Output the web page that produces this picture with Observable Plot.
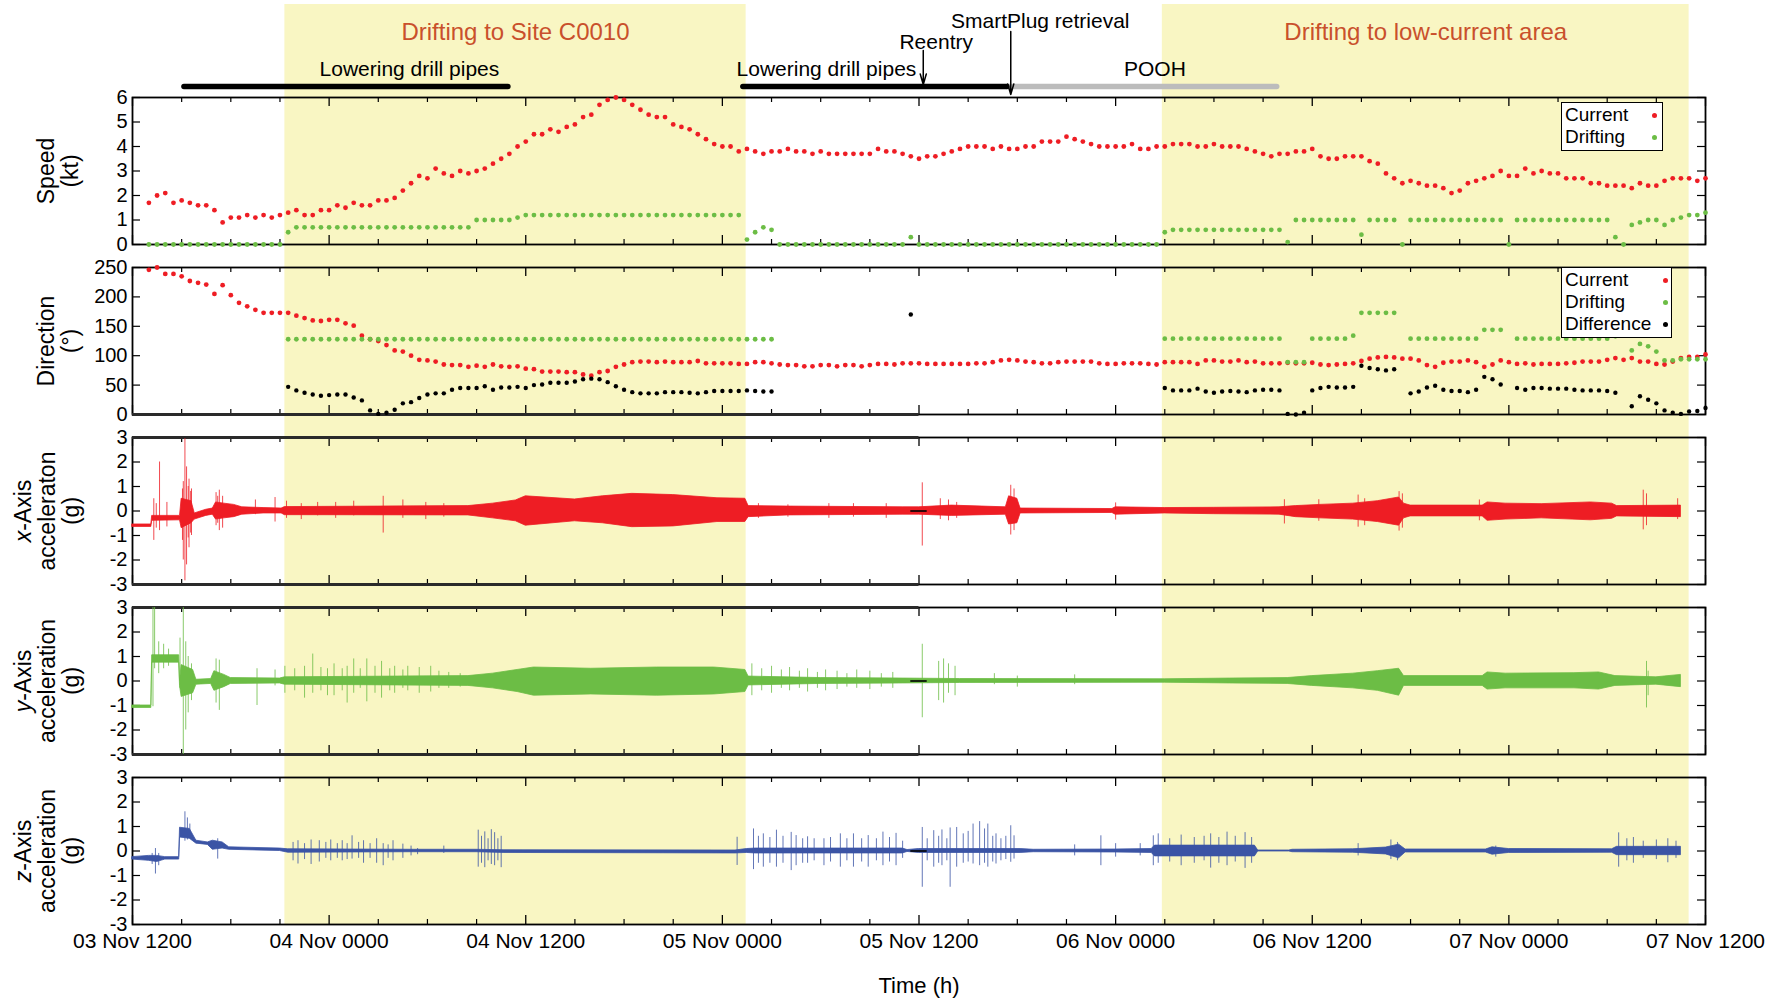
<!DOCTYPE html>
<html>
<head>
<meta charset="utf-8">
<script src="https://cdn.jsdelivr.net/npm/d3@7"></script>
<script src="https://cdn.jsdelivr.net/npm/@observablehq/plot@0.6"></script>
<style>
html, body { margin: 0; padding: 0; background: #fff; }
#fig { position: relative; width: 1788px; height: 1003px; overflow: hidden; background: #fff;
  font-family: "Liberation Sans", Arial, Helvetica, sans-serif; }
#fig .layer { position: absolute; left: 0; }
#fig .legend { position: absolute; background: #fff; border: 1.4px solid #000; box-sizing: border-box;
  font-size: 19px; color: #000; }
#fig .legend .row { position: absolute; left: 3px; height: 22px; line-height: 22px; white-space: nowrap; }
#fig .legend .dot { position: absolute; width: 5px; height: 5px; border-radius: 50%; }
</style>
</head>
<body>
<div id="fig"></div>
<script>
// ---------------- DATA ----------------
// time axis: hours after 03 Nov 12:00
const tickHours = [0, 12, 24, 36, 48, 60, 72, 84, 96];
const tickLabels = ["03 Nov 1200", "04 Nov 0000", "04 Nov 1200", "05 Nov 0000", "05 Nov 1200",
  "06 Nov 0000", "06 Nov 1200", "07 Nov 0000", "07 Nov 1200"];
const minorTickHours = [3, 6, 9, 15, 18, 21, 27, 30, 33, 39, 42, 45, 51, 54, 57, 63, 66, 69, 75, 78, 81, 87, 90, 93];

// shaded drifting periods
const shadedStart = [9.3, 62.85];
const shadedEnd = [37.45, 95.0];
const shadedTitle = ["Drifting to Site C0010", "Drifting to low-current area"];

// operations bars
const phaseStart = [3.17, 37.28, 53.39];
const phaseEnd = [22.94, 53.39, 69.86];
const phaseKind = ["drill", "drill", "pooh"];
const phaseLabel = ["Lowering drill pipes", "Lowering drill pipes", "POOH"];
const phaseLabelAt = [16.9, 42.35, 62.4];

// events
const eventName = ["Reentry", "SmartPlug retrieval"];
const eventAt = [48.26, 53.6];
const eventLabelAt = [49.05, 55.4];

// half-hourly samples, first one at 1.0 h
const sampleStart = 1.0, sampleStep = 0.5;

const speedCurrent = [
1.7,2.0,2.1,1.7,1.8,1.7,1.6,1.6,1.4,0.9,
1.1,1.1,1.2,1.1,1.2,1.1,1.2,1.3,1.4,1.2,
1.2,1.4,1.4,1.6,1.5,1.7,1.6,1.6,1.8,1.8,
1.9,2.2,2.5,2.8,2.7,3.1,2.9,2.8,3.0,2.9,
3.0,3.1,3.3,3.5,3.7,4.0,4.2,4.5,4.5,4.7,
4.6,4.8,4.9,5.2,5.3,5.7,5.9,6.0,5.9,5.7,
5.5,5.3,5.2,5.2,4.9,4.8,4.7,4.5,4.3,4.1,
4.0,4.0,3.8,3.9,3.8,3.7,3.8,3.8,3.9,3.8,
3.8,3.7,3.8,3.7,3.7,3.7,3.7,3.7,3.7,3.9,
3.8,3.8,
3.7,3.6,3.5,3.6,3.6,3.7,3.8,3.9,4.0,4.0,
4.0,3.9,4.0,3.9,3.9,4.0,4.0,4.2,4.2,4.2,
4.4,4.3,4.2,4.1,4.0,4.0,4.0,4.0,4.1,3.9,
3.9,4.0,4.0,4.1,4.1,4.1,4.0,4.0,4.1,4.0,
4.0,4.0,3.9,3.8,3.7,3.6,3.7,3.7,3.8,3.8,
3.9,3.6,3.5,3.5,3.6,3.6,3.6,3.4,3.3,2.9,
2.7,2.5,2.6,2.5,2.4,2.4,2.3,2.1,2.2,2.5,
2.6,2.7,2.8,3.0,2.8,2.8,3.1,2.9,3.0,2.9,
2.9,2.7,2.7,2.7,2.5,2.5,2.4,2.4,2.4,2.3,
2.5,2.4,2.4,2.6,2.7,2.7,2.7,2.6,2.7];

const speedDrifting = [
0,0,0,0,0,0,0,0,0,0,
0,0,0,0,0,0,0,0.5,0.7,0.7,
0.7,0.7,0.7,0.7,0.7,0.7,0.7,0.7,0.7,0.7,
0.7,0.7,0.7,0.7,0.7,0.7,0.7,0.7,0.7,0.7,
1.0,1.0,1.0,1.0,1.0,1.1,1.2,1.2,1.2,1.2,
1.2,1.2,1.2,1.2,1.2,1.2,1.2,1.2,1.2,1.2,
1.2,1.2,1.2,1.2,1.2,1.2,1.2,1.2,1.2,1.2,
1.2,1.2,1.2,0.2,0.5,0.7,0.6,0,0,0,
0,0,0,0,0,0,0,0,0,0,
0,0,0,0.3,0,0,0,0,0,0,
0,0,0,0,0,0,0,0,0,0,
0,0,0,0,0,0,0,0,0,0,
0,0,0,0,0.5,0.6,0.6,0.6,0.6,0.6,
0.6,0.6,0.6,0.6,0.6,0.6,0.6,0.6,0.6,0.1,
1.0,1.0,1.0,1.0,1.0,1.0,1.0,1.0,0.4,1.0,
1.0,1.0,1.0,0,1.0,1.0,1.0,1.0,1.0,1.0,
1.0,1.0,1.0,1.0,1.0,1.0,0,1.0,1.0,1.0,
1.0,1.0,1.0,1.0,1.0,1.0,1.0,1.0,1.0,0.3,
0,0.8,0.9,1.0,1.0,0.8,1.0,1.1,1.2,1.2,
1.3];

const dirCurrent = [
246,250,239,239,235,227,224,221,205,220,
203,190,184,178,173,173,173,173,168,164,
160,159,161,161,155,151,134,128,125,118,
109,107,100,93,92,90,85,84,84,81,
83,81,85,82,81,82,78,77,73,73,
73,72,72,68,66,72,74,81,85,89,
90,90,89,90,89,89,89,91,87,87,
87,87,86,86,89,89,87,85,84,84,
82,82,84,84,82,84,84,82,84,86,
86,85,
87,87,87,86,86,86,86,86,86,87,
87,89,92,93,92,90,89,87,87,89,
90,90,90,90,87,86,86,87,87,87,
86,85,89,89,89,89,86,92,92,90,
90,92,89,90,87,87,87,88,87,87,
88,85,84,85,86,87,91,95,97,98,
97,95,95,92,84,81,88,90,90,92,
89,81,85,92,89,86,87,85,86,86,
86,87,88,90,90,90,93,96,93,96,
90,90,86,85,90,96,98,98,102];

const _ = null;
const dirDrifting = [
_,_,_,_,_,_,_,_,_,_,
_,_,_,_,_,_,_,128,128,128,
128,128,128,128,128,128,128,128,128,128,
128,128,128,128,128,128,128,128,128,128,
128,128,128,128,128,128,128,128,128,128,
128,128,128,128,128,128,128,128,128,128,
128,128,128,128,128,128,128,128,128,128,
128,128,128,128,128,128,128,_,_,_,
_,_,_,_,_,_,_,_,_,_,
_,_,_,_,_,_,_,_,_,_,
_,_,_,_,_,_,_,_,_,_,
_,_,_,_,_,_,_,_,_,_,
_,_,_,_,129,129,129,129,129,129,
129,129,129,129,129,129,129,129,129,89,
89,89,129,129,129,129,129,134,173,173,
173,173,173,_,129,129,129,129,129,129,
129,129,129,144,144,144,_,129,129,129,
129,129,129,129,129,129,129,129,129,133,
_,109,120,116,107,92,92,94,94,94,
94];

const dirDifference = [
_,_,_,_,_,_,_,_,_,_,
_,_,_,_,_,_,_,47,41,37,
34,32,33,34,34,29,24,7,1,3,
8,19,21,28,34,36,36,42,45,45,
45,48,42,46,46,47,45,50,51,54,
54,54,56,60,61,60,55,48,42,38,
36,36,36,38,38,38,37,36,38,40,
40,40,40,41,40,39,39,_,_,_,
_,_,_,_,_,_,_,_,_,_,
_,_,_,170,_,_,_,_,_,_,
_,_,_,_,_,_,_,_,_,_,
_,_,_,_,_,_,_,_,_,_,
_,_,_,_,45,41,41,41,44,39,
37,39,40,39,38,41,42,42,41,1,
0,3,41,45,47,46,46,47,83,79,
77,75,77,_,36,39,46,49,42,40,
40,38,42,64,60,51,_,45,42,45,
45,44,44,44,42,41,41,41,40,37,
_,14,31,25,19,7,3,1,5,6,
11];

// acceleration envelopes (knots: time h, lower g, upper g)
const accXt  = [0,1.15,1.2,2.9,3.0,3.6,3.8,4.5,4.9,5.1,5.6,6.2,6.7,8.0,9.1,9.3,20.5,22.0,23.4,24.0,27.0,28.7,30.5,33.0,35.7,37.4,37.6,40.0,47.0,48.0,50.0,53.3,53.5,54.0,54.2,59.8,60.0,63.0,66.0,70.0,71.0,72.5,74.5,76.0,77.3,77.6,78.0,82.4,82.7,83.8,86.0,89.0,90.3,90.6,94.5];
const accXlo = [-0.65,-0.65,-0.4,-0.38,-0.7,-0.5,-0.35,-0.2,-0.15,-0.35,-0.3,-0.25,-0.15,-0.1,-0.1,-0.17,-0.18,-0.3,-0.42,-0.6,-0.42,-0.5,-0.66,-0.63,-0.45,-0.45,-0.25,-0.18,-0.15,-0.15,-0.2,-0.15,-0.55,-0.5,-0.1,-0.08,-0.15,-0.1,-0.13,-0.15,-0.25,-0.3,-0.35,-0.45,-0.6,-0.3,-0.22,-0.22,-0.4,-0.35,-0.3,-0.38,-0.32,-0.22,-0.25];
const accXhi = [-0.55,-0.55,-0.2,-0.2,0.5,0.4,-0.1,0.05,0.1,0.35,0.3,0.25,0.15,0.12,0.1,0.16,0.2,0.3,0.43,0.6,0.47,0.6,0.7,0.65,0.52,0.5,0.2,0.18,0.15,0.15,0.22,0.15,0.6,0.5,0.1,0.08,0.15,0.12,0.13,0.15,0.2,0.25,0.3,0.4,0.55,0.3,0.22,0.22,0.35,0.3,0.28,0.35,0.3,0.2,0.22];
const accXspikeT  = [1.3,1.45,1.65,2.1,3.05,3.1,3.2,3.3,3.4,3.45,3.55,3.6,5.1,5.2,5.3,5.5,7.5,8.7,9.4,10.3,11.3,12.4,13.5,15.3,16.5,17.9,19.0,38.2,40.0,42.5,44.0,46.0,48.2,49.3,49.8,50.3,53.6,53.8,60.0,70.3,72.4,74.8,75.2,77.3,77.5,82.2,92.2,92.4,94.3];
const accXspikeLo = [-1.2,-0.7,-0.8,-0.65,-1.2,-2.0,-2.85,-2.2,-1.1,-1.5,-0.9,-1.0,-0.6,-0.5,-0.8,-0.7,-0.15,-0.45,-0.3,-0.35,-0.2,-0.3,-0.2,-0.9,-0.3,-0.35,-0.25,-0.3,-0.25,-0.3,-0.25,-0.3,-1.43,-0.35,-0.4,-0.3,-0.98,-0.8,-0.37,-0.53,-0.42,-0.66,-0.6,-0.82,-0.7,-0.4,-0.77,-0.6,-0.35];
const accXspikeHi = [0.5,0.3,2.0,0.35,0.9,1.2,2.95,1.8,1.0,1.3,0.8,0.9,0.75,0.6,0.85,0.6,0.45,0.55,0.4,0.3,0.35,0.35,0.4,0.6,0.45,0.35,0.3,0.3,0.25,0.3,0.3,0.3,1.15,0.5,0.45,0.35,1.05,0.9,0.33,0.46,0.46,0.65,0.5,0.79,0.7,0.45,0.85,0.7,0.5];

const accYt  = [0,1.15,1.2,2.85,2.9,3.0,3.7,3.9,4.8,5.0,5.6,6.0,9.0,9.3,20.5,22.0,23.5,24.5,28.0,32.0,35.5,37.4,37.6,42.0,47.0,50.5,63.0,67.0,70.5,72.0,74.5,76.0,77.3,77.6,82.4,82.7,83.8,88.0,89.5,90.5,93.0,94.5];
const accYlo = [-1.1,-1.1,0.75,0.75,-0.2,-0.65,-0.5,-0.15,-0.12,-0.4,-0.25,-0.12,-0.1,-0.15,-0.2,-0.3,-0.45,-0.6,-0.55,-0.6,-0.55,-0.45,-0.18,-0.12,-0.1,-0.08,-0.07,-0.1,-0.12,-0.2,-0.3,-0.4,-0.6,-0.2,-0.2,-0.35,-0.3,-0.3,-0.35,-0.2,-0.15,-0.25];
const accYhi = [-1.0,-1.0,1.05,1.05,0.0,0.65,0.45,0.05,0.08,0.4,0.25,0.12,0.1,0.15,0.2,0.3,0.45,0.55,0.5,0.55,0.55,0.45,0.18,0.12,0.1,0.08,0.07,0.1,0.12,0.2,0.3,0.4,0.5,0.2,0.2,0.35,0.3,0.32,0.35,0.2,0.15,0.25];
const accYspikeT  = [1.25,1.35,1.6,1.9,2.2,2.9,3.1,3.25,3.4,3.6,5.1,5.3,7.6,8.7,9.3,9.9,10.5,11.0,11.5,11.9,12.3,12.8,13.1,13.5,13.9,14.3,14.8,15.2,15.7,16.0,16.5,16.8,17.5,18.2,18.7,19.3,20.0,37.8,38.4,39.0,39.6,40.1,40.7,41.2,41.8,42.3,43.0,43.6,44.2,45.0,45.7,46.4,48.2,49.2,49.5,49.8,50.2,52.6,54.0,57.5,92.4,92.5];
const accYspikeLo = [-1.05,0.5,0.3,0.5,0.6,-0.3,-3.0,-2.0,-1.3,-0.8,-0.9,-1.2,-1.0,-0.2,-0.5,-0.4,-0.7,-0.5,-0.4,-0.6,-0.6,-0.4,-0.9,-0.5,-0.3,-0.85,-0.5,-0.7,-0.4,-0.5,-0.3,-0.4,-0.5,-0.45,-0.3,-0.3,-0.25,-0.6,-0.4,-0.5,-0.3,-0.4,-0.3,-0.45,-0.3,-0.4,-0.35,-0.25,-0.3,-0.35,-0.25,-0.3,-1.5,-0.8,-0.9,-0.5,-0.6,-0.15,-0.25,-0.15,-1.1,-0.6];
const accYspikeHi = [3.0,3.0,1.6,1.5,1.3,1.75,3.0,1.6,1.0,0.7,0.9,0.85,0.5,0.45,0.6,0.5,0.6,1.1,0.55,0.5,0.7,0.5,0.6,0.9,0.5,0.9,0.6,0.8,0.5,0.6,0.45,0.6,0.55,0.6,0.4,0.35,0.3,0.7,0.5,0.6,0.45,0.55,0.4,0.5,0.35,0.45,0.4,0.3,0.45,0.4,0.3,0.35,1.5,0.8,0.9,0.7,0.6,0.3,0.2,0.25,0.8,0.4];

const accZt  = [0,1.0,1.5,2.0,2.85,2.9,3.5,3.9,4.6,4.9,5.5,5.9,9.0,9.5,17.2,21.0,22.7,36.8,37.5,38.0,47.0,47.3,48.0,54.2,55.0,60.0,62.2,62.4,68.5,68.7,70.6,70.8,74.5,76.5,77.3,77.7,82.6,83.0,84.0,90.3,90.6,94.5];
const accZlo = [-0.35,-0.4,-0.45,-0.35,-0.35,0.55,0.5,0.3,0.25,0.05,0.1,0.05,0.0,-0.07,-0.05,-0.05,-0.08,-0.1,-0.08,-0.1,-0.1,-0.04,-0.08,-0.08,-0.05,-0.06,-0.08,-0.22,-0.22,-0.02,-0.02,-0.05,-0.07,-0.14,-0.3,-0.06,-0.06,-0.15,-0.08,-0.07,-0.17,-0.17];
const accZhi = [-0.25,-0.2,-0.2,-0.25,-0.25,0.95,0.9,0.42,0.35,0.42,0.35,0.15,0.1,0.07,0.05,0.05,0.03,0.02,0.08,0.1,0.1,0.04,0.08,0.08,0.05,0.06,0.08,0.22,0.22,0.02,0.02,0.05,0.07,0.14,0.26,0.06,0.06,0.15,0.08,0.07,0.17,0.17];
const accZspikeT  = [1.2,1.4,1.6,3.2,3.35,3.5,5.2,9.8,10.1,10.5,10.9,11.4,11.8,12.1,12.5,12.8,13.1,13.4,13.8,14.1,14.5,14.9,15.3,15.6,15.9,16.5,17.0,17.4,19.0,21.1,21.3,21.5,21.7,21.9,22.1,22.3,22.5,36.9,37.9,38.2,38.5,38.9,39.3,39.7,40.2,40.5,40.9,41.2,41.6,42.2,42.6,43.2,43.6,44.0,44.5,44.9,45.4,45.8,46.2,46.6,47.0,48.2,48.5,48.9,49.2,49.4,49.7,49.9,50.3,50.7,51.0,51.3,51.7,52.0,52.2,52.5,52.7,53.0,53.3,53.6,53.8,57.5,59.1,60.0,61.5,62.3,62.6,63.3,64.0,64.8,65.4,65.8,66.3,66.8,67.3,67.9,68.3,74.8,76.8,77.2,83.2,90.7,91.2,91.6,92.2,93.0,93.7,94.2];
const accZspikeLo = [-0.55,-0.94,-0.6,0.4,0.45,0.5,-0.33,-0.4,-0.53,-0.35,-0.55,-0.45,-0.3,-0.4,-0.3,-0.4,-0.35,-0.33,-0.3,-0.5,-0.3,-0.5,-0.6,-0.3,-0.4,-0.3,-0.2,-0.15,-0.1,-0.66,-0.5,-0.68,-0.4,-0.55,-0.6,-0.4,-0.68,-0.59,-0.76,-0.5,-0.66,-0.5,-0.66,-0.5,-0.8,-0.6,-0.5,-0.5,-0.4,-0.6,-0.45,-0.66,-0.4,-0.66,-0.45,-0.66,-0.4,-0.6,-0.45,-0.6,-0.3,-1.48,-0.4,-0.66,-0.5,-0.6,-0.4,-1.48,-0.66,-0.5,-0.45,-0.53,-0.6,-0.5,-0.66,-0.45,-0.53,-0.4,-0.35,-0.46,-0.33,-0.2,-0.6,-0.25,-0.2,-0.6,-0.5,-0.45,-0.6,-0.5,-0.4,-0.7,-0.5,-0.6,-0.45,-0.71,-0.5,-0.2,-0.35,-0.4,-0.25,-0.66,-0.4,-0.5,-0.3,-0.35,-0.48,-0.3];
const accZspikeHi = [-0.1,0.1,-0.1,1.6,1.35,1.1,0.5,0.35,0.42,0.3,0.45,0.42,0.35,0.45,0.3,0.42,0.3,0.62,0.35,0.42,0.3,0.5,0.3,0.25,0.42,0.28,0.2,0.1,0.2,0.85,0.6,0.78,0.5,0.87,0.75,0.5,0.6,0.56,0.9,0.6,0.7,0.55,0.85,0.6,0.76,0.63,0.5,0.58,0.5,0.5,0.55,0.7,0.5,0.7,0.5,0.63,0.5,0.77,0.55,0.72,0.4,0.96,0.5,0.83,0.6,0.86,0.5,0.94,0.96,0.7,0.8,1.1,1.2,0.9,1.1,0.6,0.7,0.5,0.6,1.03,0.62,0.25,0.62,0.3,0.3,0.62,0.7,0.5,0.65,0.55,0.6,0.7,0.55,0.77,0.6,0.75,0.55,0.3,0.45,0.35,0.2,0.74,0.5,0.55,0.4,0.45,0.5,0.4];

// logger gap around reentry (flat black segment at 0 g) and heavy frame segment
const dataGap = [47.5, 48.5];
const heavyFrameSpan = [0, 48];

// ---------------- LAYOUT / STYLE ----------------
const W = 1788, H = 1003, ML = 132, MR = 83, FW = W - ML - MR;
const PANEL_TOPS = [97, 267, 437, 607, 777], PH = 147, PAD = 14;
const FONT = '"Liberation Sans", Arial, Helvetica, sans-serif';
const YELLOW = "#f9f6c3";
const RED = "#ee1d24", GREEN = "#6cbd45", BLUE = "#3b54a5", TITLE = "#c9502c";
const LANE = {smartplug: 21, title: 32, reentry: 42, label: 69, bar: 86};
const ARROW = {"Reentry": [50, 84], "SmartPlug retrieval": [31, 94]};

const fig = document.getElementById("fig");
const baseStyle = {background: "transparent", fontFamily: FONT, fontSize: "20px", color: "#000", overflow: "visible"};

function addLayer(node, top) {
  const d = document.createElement("div");
  d.className = "layer";
  d.style.top = top + "px";
  d.appendChild(node);
  fig.appendChild(d);
}
const series = (arr) => arr.map((v, i) => ({t: sampleStart + i * sampleStep, v})).filter(d => d.v !== null);
const zip3 = (t, lo, hi) => t.map((x, i) => ({t: x, lo: lo[i], hi: hi[i]}));

// ---------------- BACKGROUND (shading + time axis) ----------------
const bands = shadedStart.map((s, i) => ({start: s, end: shadedEnd[i]}));
addLayer(Plot.plot({
  width: W, height: H, marginLeft: ML, marginRight: MR, marginTop: 4, marginBottom: H - (PANEL_TOPS[4] + PH),
  style: baseStyle,
  x: {domain: [0, 96], label: null},
  y: {domain: [0, 1], axis: null, label: null},
  marks: [
    Plot.rect(bands, {x1: "start", x2: "end", y1: 0, y2: 1, fill: YELLOW}),
    Plot.axisX({ticks: tickHours, tickSize: 0, tickPadding: 9, label: null, fontSize: 21,
      tickFormat: d => tickLabels[tickHours.indexOf(d)]}),
    Plot.text(["Time (h)"], {frameAnchor: "bottom", textAnchor: "middle", dy: 68, fontSize: 22, text: d => d})
  ]
}), 0);

// ---------------- ANNOTATIONS ----------------
const titles = shadedTitle.map((s, i) => ({s, x: (shadedStart[i] + shadedEnd[i]) / 2}));
const phases = phaseStart.map((s, i) => ({start: s, end: phaseEnd[i], kind: phaseKind[i]}));
const phaseTexts = phaseLabel.map((s, i) => ({s, x: phaseLabelAt[i]}));
const events = eventName.map((n, i) => ({name: n, t: eventAt[i], lx: eventLabelAt[i]}));
addLayer(Plot.plot({
  width: W, height: 97, marginLeft: ML, marginRight: MR, marginTop: 0, marginBottom: 0,
  style: baseStyle,
  x: {domain: [0, 96], axis: null},
  y: {domain: [0, 97], range: [0, 97], axis: null},
  marks: [
    Plot.text(titles, {x: "x", y: LANE.title, text: "s", fill: TITLE, fontSize: 24}),
    Plot.ruleY(phases.filter(d => d.kind === "pooh"), {x1: "start", x2: "end", y: LANE.bar, stroke: "#bcbcbc", strokeWidth: 5.5, strokeLinecap: "round"}),
    Plot.ruleY(phases.filter(d => d.kind === "drill"), {x1: "start", x2: "end", y: LANE.bar, stroke: "#000", strokeWidth: 5.5, strokeLinecap: "round"}),
    Plot.text(phaseTexts, {x: "x", y: LANE.label, text: "s", fontSize: 21}),
    Plot.arrow(events, {x1: "t", x2: "t", y1: d => ARROW[d.name][0], y2: d => ARROW[d.name][1],
      stroke: "#000", strokeWidth: 1.5, headLength: 11, headAngle: 32}),
    Plot.text(events, {x: "lx", y: d => d.name === "Reentry" ? LANE.reentry : LANE.smartplug, text: "name", fontSize: 21})
  ]
}), 0);

// ---------------- PANELS ----------------
function panel(k, cfg) {
  const marks = [
    Plot.ruleX(tickHours, {x: d => d, insetBottom: PH - 9, stroke: "#000", strokeWidth: 1.3}),
    Plot.ruleX(tickHours, {x: d => d, insetTop: PH - 9, stroke: "#000", strokeWidth: 1.3}),
    Plot.ruleX(minorTickHours, {x: d => d, insetBottom: PH - 5, stroke: "#000", strokeWidth: 1.2}),
    Plot.ruleX(minorTickHours, {x: d => d, insetTop: PH - 5, stroke: "#000", strokeWidth: 1.2}),
    Plot.ruleY(cfg.yTicks, {y: d => d, insetRight: FW - 8, stroke: "#000", strokeWidth: 1.2}),
    Plot.ruleY(cfg.yTicks, {y: d => d, insetLeft: FW - 8, stroke: "#000", strokeWidth: 1.2}),
    Plot.axisY({ticks: cfg.yTicks, tickSize: 0, tickPadding: 5, tickFormat: d => String(d), fontSize: 20, label: null}),
    Plot.frame({stroke: "#000", strokeWidth: 1.8}),
    ...(cfg.heavy ? [Plot.ruleY(cfg.heavy, {y: d => d, x1: heavyFrameSpan[0], x2: heavyFrameSpan[1], stroke: "#2a2a2a", strokeWidth: 3})] : []),
    ...cfg.marks,
    Plot.text([cfg.title], {text: d => d, frameAnchor: "left", textAnchor: "middle", lineAnchor: "middle",
      dx: cfg.titleDx, rotate: -90, fontSize: 23, lineHeight: 1.05})
  ];
  addLayer(Plot.plot({
    width: W, height: PH + 2 * PAD, marginLeft: ML, marginRight: MR, marginTop: PAD, marginBottom: PAD,
    style: baseStyle,
    x: {domain: [0, 96], axis: null, label: null},
    y: {domain: cfg.yDomain, axis: null, label: null},
    marks
  }), PANEL_TOPS[k] - PAD);
}

panel(0, {
  yDomain: [0, 6], yTicks: [0, 1, 2, 3, 4, 5, 6], title: "Speed\n(kt)", titleDx: -74,
  marks: [
    Plot.dot(series(speedCurrent), {x: "t", y: "v", r: 2.4, fill: RED}),
    Plot.dot(series(speedDrifting), {x: "t", y: "v", r: 2.4, fill: GREEN})
  ]
});
panel(1, {
  yDomain: [0, 250], yTicks: [0, 50, 100, 150, 200, 250], title: "Direction\n(°)", titleDx: -74, heavy: [0],
  marks: [
    Plot.dot(series(dirCurrent), {x: "t", y: "v", r: 2.4, fill: RED}),
    Plot.dot(series(dirDrifting), {x: "t", y: "v", r: 2.4, fill: GREEN}),
    Plot.dot(series(dirDifference), {x: "t", y: "v", r: 2.2, fill: "#000"})
  ]
});
function accMarks(t, lo, hi, st, slo, shi, color) {
  return [
    Plot.ruleX(zip3(st, slo, shi), {x: "t", y1: "lo", y2: "hi", stroke: color, strokeWidth: 1, strokeOpacity: 0.8}),
    Plot.areaY(zip3(t, lo, hi), {x: "t", y1: "lo", y2: "hi", fill: color, stroke: color, strokeWidth: 0.8}),
    Plot.ruleY([0], {x1: dataGap[0], x2: dataGap[1], stroke: "#000", strokeWidth: 1.6})
  ];
}
const accTicks = [-3, -2, -1, 0, 1, 2, 3];
panel(2, {
  yDomain: [-3, 3], yTicks: accTicks, title: "x-Axis\nacceleraton\n(g)", titleDx: -85, heavy: [3, -3],
  marks: accMarks(accXt, accXlo, accXhi, accXspikeT, accXspikeLo, accXspikeHi, RED)
});
panel(3, {
  yDomain: [-3, 3], yTicks: accTicks, title: "y-Axis\nacceleration\n(g)", titleDx: -85, heavy: [3, -3],
  marks: accMarks(accYt, accYlo, accYhi, accYspikeT, accYspikeLo, accYspikeHi, GREEN)
});
panel(4, {
  yDomain: [-3, 3], yTicks: accTicks, title: "z-Axis\nacceleration\n(g)", titleDx: -85,
  marks: accMarks(accZt, accZlo, accZhi, accZspikeT, accZspikeLo, accZspikeHi, BLUE)
});

// italic axis letter in "x-Axis", "y-Axis", "z-Axis"
const svgNS = "http://www.w3.org/2000/svg";
fig.querySelectorAll("tspan, text").forEach(el => {
  if (el.childElementCount) return;
  const m = /^([xyz])-Axis$/.exec(el.textContent);
  if (m) {
    el.textContent = "";
    const it = document.createElementNS(svgNS, "tspan");
    it.setAttribute("font-style", "italic");
    it.textContent = m[1];
    el.appendChild(it);
    el.appendChild(document.createTextNode("-Axis"));
  }
});

// ---------------- IN-FRAME LEGENDS ----------------
const legendSpeed = {labels: ["Current", "Drifting"], colors: [RED, GREEN]};
const legendDir = {labels: ["Current", "Drifting", "Difference"], colors: [RED, GREEN, "#000"]};
function legend(spec, left, top, width, dotX) {
  const box = document.createElement("div");
  box.className = "legend";
  box.style.left = left + "px"; box.style.top = top + "px";
  box.style.width = width + "px"; box.style.height = (spec.labels.length * 22 + 5) + "px";
  spec.labels.forEach((lab, i) => {
    const row = document.createElement("div");
    row.className = "row"; row.style.top = (1 + i * 22) + "px"; row.textContent = lab;
    box.appendChild(row);
    const dot = document.createElement("div");
    dot.className = "dot"; dot.style.background = spec.colors[i];
    dot.style.left = (dotX - 2.5) + "px"; dot.style.top = (1 + i * 22 + 11 - 2.5) + "px";
    box.appendChild(dot);
  });
  fig.appendChild(box);
}
legend(legendSpeed, 1561, 102, 102, 92);
legend(legendDir, 1561, 267, 111, 103);
</script>
</body>
</html>
